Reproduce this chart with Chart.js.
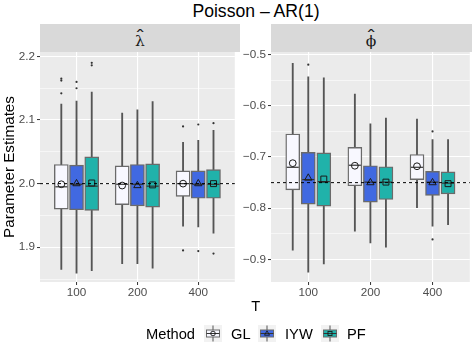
<!DOCTYPE html>
<html>
<head>
<meta charset="utf-8">
<script src="https://cdn.jsdelivr.net/npm/chart.js@4.4.1/dist/chart.umd.min.js"></script>
<style>
  html, body { margin:0; padding:0; background:#fff; width:475px; height:350px; overflow:hidden;
    font-family:'Liberation Sans', Arial, sans-serif; }
  #wrap { position:relative; width:475px; height:350px; }
  .abs { position:absolute; white-space:nowrap; }
  .strip { background:#D9D9D9; top:24px; height:28px; }
  .sym { position:absolute; top:10px; width:20px; margin-left:-10px; text-align:center;
    font-family:'DejaVu Serif','Liberation Serif',serif; font-size:15.5px; line-height:15px; color:#1A1A1A; }
  .hat { position:absolute; top:8px; width:20px; margin-left:-10px; text-align:center;
    font-family:'DejaVu Sans',sans-serif; font-size:15px; line-height:10px; color:#1A1A1A; transform:scaleX(1.5); }
  .txt { font-size:14.7px; line-height:17px; color:#000; }
  canvas { position:absolute; }
</style>
</head>
<body>
<div id="wrap">
  <div class="abs" id="title" style="left:156px;width:200px;top:1px;text-align:center;font-size:17.6px;line-height:20px;">Poisson – AR(1)</div>
  <div class="abs strip" style="left:40px;width:200px;">
    <span class="hat" style="left:100px;">ˆ</span><span class="sym" style="left:100px;">λ</span>
  </div>
  <div class="abs strip" style="left:271px;width:200.5px;">
    <span class="hat" style="left:100px;">ˆ</span><span class="sym" style="left:100px;">ϕ</span>
  </div>
  <canvas id="c1" width="240" height="260" style="left:0;top:40px;"></canvas>
  <canvas id="c2" width="235" height="260" style="left:240px;top:40px;"></canvas>
  <div class="abs txt" style="left:235.7px;width:40px;top:298px;text-align:center;">T</div>
  <div class="abs txt" style="left:146px;top:325.7px;">Method</div>
  <svg class="abs" style="left:204px;top:325px;" width="18" height="17"><rect width="18" height="17" fill="#F2F2F2"/><line x1="9" y1="0.5" x2="9" y2="16.5" stroke="#555" stroke-width="1"/><rect x="2.5" y="5" width="13" height="7" fill="#F8F8FF" stroke="#6a6a6a" stroke-width="1"/><line x1="2.5" y1="8.5" x2="15.5" y2="8.5" stroke="#333" stroke-width="1"/><circle cx="9" cy="8.5" r="2.3" fill="none" stroke="#1a1a1a" stroke-width="0.9"/></svg>
  <div class="abs txt" style="left:231px;top:325.7px;">GL</div>
  <svg class="abs" style="left:258px;top:325px;" width="18" height="17"><rect width="18" height="17" fill="#F2F2F2"/><line x1="9" y1="0.5" x2="9" y2="16.5" stroke="#555" stroke-width="1"/><rect x="2.5" y="5" width="13" height="7" fill="#4169E1" stroke="#6a6a6a" stroke-width="1"/><line x1="2.5" y1="8.5" x2="15.5" y2="8.5" stroke="#333" stroke-width="1"/><polygon points="9,5.8 11.5,10.2 6.5,10.2" fill="none" stroke="#1a1a1a" stroke-width="0.9"/></svg>
  <div class="abs txt" style="left:285px;top:325.7px;">IYW</div>
  <svg class="abs" style="left:321px;top:325px;" width="18" height="17"><rect width="18" height="17" fill="#F2F2F2"/><line x1="9" y1="0.5" x2="9" y2="16.5" stroke="#555" stroke-width="1"/><rect x="2.5" y="5" width="13" height="7" fill="#20B2AA" stroke="#6a6a6a" stroke-width="1"/><line x1="2.5" y1="8.5" x2="15.5" y2="8.5" stroke="#333" stroke-width="1"/><rect x="7" y="6.5" width="4" height="4" fill="none" stroke="#1a1a1a" stroke-width="0.9"/></svg>
  <div class="abs txt" style="left:347px;top:325.7px;">PF</div>
</div>
<script>
// ---------------- data ----------------
const T_VALUES = ['100', '200', '400'];
const METHODS = ['GL', 'IYW', 'PF'];

// lambda-hat: [lower whisker, Q1, median, Q3, upper whisker] for T = 100, 200, 400
const LAMBDA_GL  = [[1.865, 1.960, 1.995, 2.030, 2.125], [1.874, 1.967, 1.999, 2.028, 2.111], [1.933, 1.980, 2.000, 2.020, 2.065]];
const LAMBDA_IYW = [[1.859, 1.959, 1.999, 2.029, 2.130], [1.874, 1.965, 1.999, 2.030, 2.116], [1.932, 1.977, 1.999, 2.020, 2.068]];
const LAMBDA_PF  = [[1.863, 1.958, 1.996, 2.042, 2.144], [1.867, 1.963, 1.996, 2.031, 2.129], [1.922, 1.977, 1.999, 2.022, 2.084]];
const LAMBDA_MEAN_GL  = [1.999, 1.997, 2.000];
const LAMBDA_MEAN_IYW = [2.000, 1.997, 2.000];
const LAMBDA_MEAN_PF  = [2.001, 1.998, 2.000];
const LAMBDA_OUT_GL  = [[2.165, 2.162, 2.142], [], [2.090, 1.895]];
const LAMBDA_OUT_IYW = [[2.160, 2.150], [], [2.093, 1.894]];
const LAMBDA_OUT_PF  = [[2.190, 2.186], [], [2.095, 1.890]];
const LAMBDA_TRUE = 2.0;
const LAMBDA_MAJOR = [1.9, 2.0, 2.1, 2.2];
const LAMBDA_MINOR = [1.85, 1.95, 2.05, 2.15];

// phi-hat: [lower whisker, Q1, median, Q3, upper whisker] for T = 100, 200, 400
const PHI_GL  = [[-0.882, -0.764, -0.720, -0.655, -0.517], [-0.845, -0.756, -0.716, -0.681, -0.577], [-0.799, -0.744, -0.720, -0.695, -0.626]];
const PHI_IYW = [[-0.925, -0.792, -0.744, -0.691, -0.543], [-0.868, -0.788, -0.749, -0.717, -0.635], [-0.835, -0.775, -0.749, -0.728, -0.666]];
const PHI_PF  = [[-0.909, -0.796, -0.748, -0.692, -0.545], [-0.876, -0.783, -0.749, -0.719, -0.624], [-0.832, -0.772, -0.751, -0.729, -0.666]];
const PHI_MEAN_GL  = [-0.712, -0.717, -0.718];
const PHI_MEAN_IYW = [-0.741, -0.750, -0.750];
const PHI_MEAN_PF  = [-0.743, -0.749, -0.752];
const PHI_OUT_GL  = [[], [], []];
const PHI_OUT_IYW = [[-0.5195], [], [-0.650, -0.861]];
const PHI_OUT_PF  = [[], [], []];
const PHI_TRUE = -0.75;
const PHI_MAJOR = [-0.9, -0.8, -0.7, -0.6, -0.5];
const PHI_MINOR = [-0.85, -0.75, -0.65, -0.55];

// ---------------- styling ----------------
const FILLS = ['#F8F8FF', '#4169E1', '#20B2AA'];
const MEAN_STYLE = ['circle', 'triangle', 'rect'];
const MEAN_RADIUS = [3.4, 4.2, 4.2];
const DODGE = 0.25;
const FONT = "'Liberation Sans', Arial, sans-serif";
Chart.defaults.font.family = FONT;

function xPos(ti, mi) { return ti + 1 + (mi - 1) * DODGE; }

function buildDatasets(stats, means, outs) {
  const ds = [];
  METHODS.forEach((m, mi) => {
    const s = stats[mi];
    ds.push({
      type: 'bar', label: m + ' whisker', order: 5, grouped: false, barThickness: 1.2,
      backgroundColor: '#555555', borderWidth: 0,
      data: T_VALUES.map((t, ti) => ({ x: xPos(ti, mi), y: [s[ti][0], s[ti][4]] }))
    });
    ds.push({
      type: 'bar', label: m, order: 4, grouped: false, barThickness: 14,
      backgroundColor: FILLS[mi], borderColor: '#6a6a6a', borderWidth: 1.4, borderSkipped: false,
      medians: s.map(r => r[2]),
      data: T_VALUES.map((t, ti) => ({ x: xPos(ti, mi), y: [s[ti][1], s[ti][3]] }))
    });
    ds.push({
      type: 'scatter', label: m + ' outliers', order: 3,
      pointStyle: 'circle', pointRadius: 1.1, pointBackgroundColor: '#333', pointBorderWidth: 0,
      data: outs[mi].flatMap((arr, ti) => arr.map(v => ({ x: xPos(ti, mi), y: v })))
    });
    ds.push({
      type: 'scatter', label: m + ' mean', order: 1,
      pointStyle: MEAN_STYLE[mi], pointRadius: MEAN_RADIUS[mi],
      pointBackgroundColor: 'rgba(0,0,0,0)', pointBorderColor: '#1a1a1a', pointBorderWidth: 1,
      data: means[mi].map((v, ti) => ({ x: xPos(ti, mi), y: v }))
    });
  });
  return ds;
}

const boxExtras = {
  id: 'boxExtras',
  beforeDraw(chart) {
    const { ctx, chartArea: a } = chart;
    ctx.save();
    ctx.fillStyle = '#EBEBEB';
    ctx.fillRect(a.left, a.top, a.right - a.left, a.bottom - a.top);
    ctx.restore();
  },
  afterDatasetDraw(chart, args) {
    const ds = chart.data.datasets[args.index];
    if (!ds.medians) return;
    const ys = chart.scales.y, ctx = chart.ctx;
    ctx.save();
    ctx.strokeStyle = '#333333';
    ctx.lineWidth = 1.2;
    args.meta.data.forEach((bar, i) => {
      const py = ys.getPixelForValue(ds.medians[i]);
      const p = bar.getProps(['x', 'width'], true);
      ctx.beginPath();
      ctx.moveTo(p.x - p.width / 2 + 1, py);
      ctx.lineTo(p.x + p.width / 2 - 1, py);
      ctx.stroke();
    });
    ctx.restore();
  },
  afterDatasetsDraw(chart, args, opts) {
    const { ctx, chartArea: a } = chart;
    const py = chart.scales.y.getPixelForValue(opts.ref);
    ctx.save();
    ctx.strokeStyle = '#000';
    ctx.lineWidth = 1;
    ctx.setLineDash([3, 3]);
    ctx.beginPath();
    ctx.moveTo(a.left, py);
    ctx.lineTo(a.right, py);
    ctx.stroke();
    ctx.restore();
  }
};

function makeChart(id, cfg) {
  const key = v => v.toFixed(2);
  const majorSet = new Set(cfg.major.map(key));
  const allTicks = cfg.major.concat(cfg.minor).sort((a, b) => a - b);
  return new Chart(document.getElementById(id), {
    type: 'bar',
    data: { datasets: buildDatasets(cfg.stats, cfg.means, cfg.outs) },
    plugins: [boxExtras],
    options: {
      responsive: false, animation: false, devicePixelRatio: 1,
      layout: { padding: cfg.padding },
      plugins: { legend: { display: false }, tooltip: { enabled: false }, boxExtras: { ref: cfg.ref } },
      scales: {
        x: {
          type: 'linear', min: 0.4, max: 3.6, offset: false,
          afterBuildTicks: s => { s.ticks = T_VALUES.map((t, i) => ({ value: i + 1 })); },
          afterFit: s => { s.height = cfg.xHeight; },
          ticks: { callback: v => T_VALUES[Math.round(v) - 1], color: '#4D4D4D', font: { size: 11.7 }, padding: 1, maxRotation: 0, autoSkip: false },
          grid: { color: '#FFFFFF', lineWidth: 1.1, offset: false, drawTicks: true, tickLength: 3, tickColor: '#333333', tickWidth: 1 },
          border: { display: false }
        },
        y: {
          type: 'linear', min: cfg.min, max: cfg.max,
          afterBuildTicks: s => { s.ticks = allTicks.map(v => ({ value: v })); },
          afterFit: s => { s.width = cfg.yWidth; },
          ticks: {
            callback: v => majorSet.has(key(v)) ? v.toFixed(1).replace('-', '\u2212') : '',
            color: '#4D4D4D', font: { size: 11.7 }, padding: 2, autoSkip: false
          },
          grid: {
            color: '#FFFFFF',
            lineWidth: c => (c.tick && majorSet.has(key(c.tick.value))) ? 1.1 : 0.55,
            drawTicks: true, tickLength: 3,
            tickColor: c => (c.tick && majorSet.has(key(c.tick.value))) ? '#333333' : 'rgba(0,0,0,0)',
            tickWidth: 1
          },
          border: { display: false },
          title: cfg.yTitle ? { display: true, text: cfg.yTitle, color: '#000', font: { size: 15.2 }, padding: { top: 1, bottom: 0 } } : { display: false }
        }
      }
    }
  });
}

makeChart('c1', {
  stats: [LAMBDA_GL, LAMBDA_IYW, LAMBDA_PF],
  means: [LAMBDA_MEAN_GL, LAMBDA_MEAN_IYW, LAMBDA_MEAN_PF],
  outs: [LAMBDA_OUT_GL, LAMBDA_OUT_IYW, LAMBDA_OUT_PF],
  ref: LAMBDA_TRUE, major: LAMBDA_MAJOR, minor: LAMBDA_MINOR,
  min: 1.8453, max: 2.207,
  padding: { top: 12, right: 0, bottom: 0, left: 0 },
  yWidth: 40, xHeight: 18, yTitle: 'Parameter Estimates'
});
makeChart('c2', {
  stats: [PHI_GL, PHI_IYW, PHI_PF],
  means: [PHI_MEAN_GL, PHI_MEAN_IYW, PHI_MEAN_PF],
  outs: [PHI_OUT_GL, PHI_OUT_IYW, PHI_OUT_PF],
  ref: PHI_TRUE, major: PHI_MAJOR, minor: PHI_MINOR,
  min: -0.9442, max: -0.4947,
  padding: { top: 12, right: 3.5, bottom: 0, left: 0 },
  yWidth: 31, xHeight: 18, yTitle: null
});
</script>
</body>
</html>
